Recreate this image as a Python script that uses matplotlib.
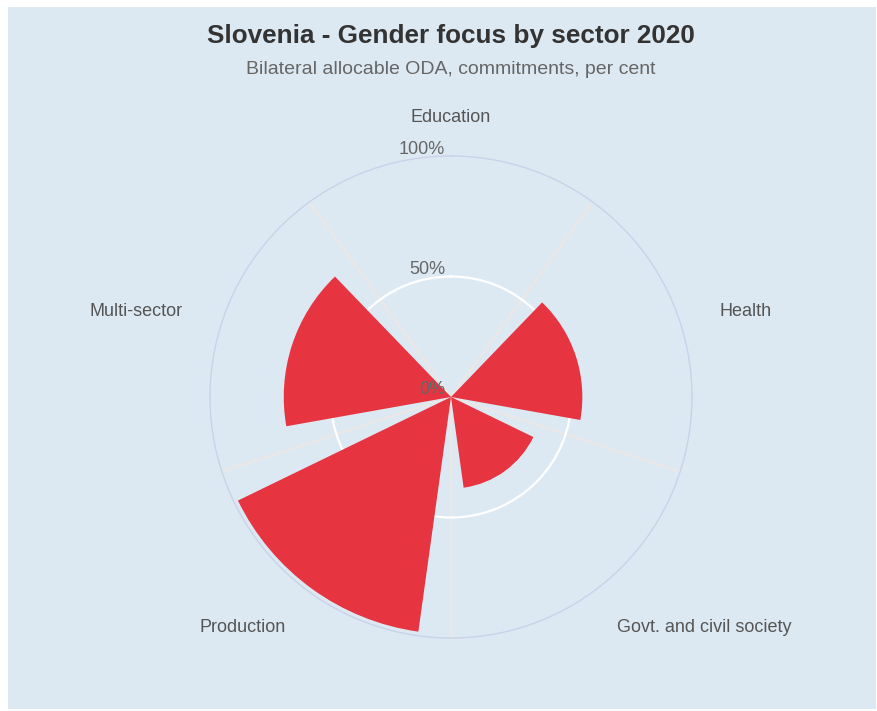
import numpy as np
import matplotlib.pyplot as plt
from matplotlib.patches import Rectangle

plt.rcParams['font.family'] = ['Liberation Sans', 'DejaVu Sans']

# data
sectors = ['Education', 'Health', 'Govt. and civil society', 'Production', 'Multi-sector']
values = [0, 54.5, 38, 98.3, 69.4]
r_ticks = [0, 50, 100]
r_tick_labels = ['0%', '50%', '100%']

bg = '#dde9f2'
bar_color = '#e63541'

fig = plt.figure(figsize=(8.77, 7.11), dpi=100, facecolor='white')
fig.patches.append(Rectangle((8 / 877, 2 / 711), 868 / 877, 702 / 711,
                             transform=fig.transFigure, facecolor=bg,
                             edgecolor='none', zorder=-10))

# polar axes placed so the center / outer ring match the reference
cx, cy, rad = 451 / 877, 1 - 397 / 711, 241
ax = fig.add_axes([cx - rad / 877, cy - rad / 711, 2 * rad / 877, 2 * rad / 711],
                  projection='polar')
ax.set_facecolor('none')
ax.set_theta_zero_location('N')
ax.set_theta_direction(-1)

n = len(sectors)
step = 2 * np.pi / n
theta = np.arange(n) * step
ax.bar(theta, values, width=step * 0.78, color=bar_color, edgecolor='none', zorder=2)

ax.set_ylim(0, 100)
ax.set_axisbelow(True)

# radial lines at category boundaries
ax.set_xticks(theta + step / 2)
ax.set_xticklabels([])
ax.xaxis.grid(True, color='#ebe7e6', linewidth=1.6)
ax.set_yticks([50])
ax.set_yticklabels([])
ax.yaxis.grid(True, color='white', linewidth=1.6)
ax.spines['polar'].set_color('#c9d2ea')
ax.spines['polar'].set_linewidth(1.0)
ax.tick_params(length=0)

# y-axis labels just left of the vertical axis, above each ring
for r, lab in zip(r_ticks, r_tick_labels):
    x_pix = 451 - 6
    y_pix = 397 - r / 100 * rad - 9
    fig.text(x_pix / 877, 1 - y_pix / 711, lab, ha='right', va='center_baseline',
             fontsize=13, color='#666666')

# category labels around the circle
aligns = ['center', 'left', 'left', 'right', 'right']
for t, name, ha in zip(theta, sectors, aligns):
    ax.text(t, 117, name, ha=ha, va='center_baseline', fontsize=13, color='#555555',
            clip_on=False)

fig.text(451 / 877, 1 - 33 / 711, 'Slovenia - Gender focus by sector 2020',
         ha='center', va='center_baseline', fontsize=18.8, fontweight='bold',
         color='#333333')
fig.text(451 / 877, 1 - 68 / 711, 'Bilateral allocable ODA, commitments, per cent',
         ha='center', va='center_baseline', fontsize=14, color='#666666')

fig.savefig('out.png', dpi=100, facecolor='white')
